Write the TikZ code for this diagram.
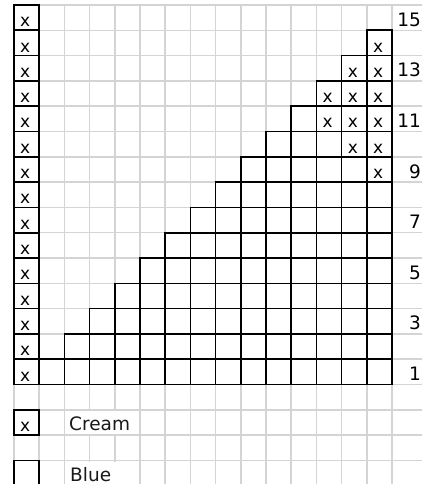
\documentclass[tikz,border=0pt]{standalone}
\usepackage{fontspec}
\setmainfont{DejaVu Sans}
\begin{document}
\begin{tikzpicture}[x=1pt,y=-1pt,
  gridline/.style={draw=black!17, line width=1.5pt},
  cellbox/.style={draw=black, line width=1.6pt, minimum width=25.2pt, minimum height=25.3pt, inner sep=0pt, outer sep=0pt, anchor=north west},
  xmark/.style={font=\fontsize{17}{17}\selectfont, inner sep=0pt, anchor=base west},
  rowlabel/.style={font=\fontsize{18.5}{18.5}\selectfont, inner sep=0pt, anchor=base east},
  legendtext/.style={font=\fontsize{18.5}{18.5}\selectfont, inner sep=0pt, anchor=base west, text=black!90}]
\useasboundingbox (0,0) rectangle (422,484);
\clip (0,0) rectangle (422,484);
% light grid
\foreach \k in {0,...,15} \draw[gridline] ({14+\k*25.2},5) -- ({14+\k*25.2},490);
\foreach \k in {0,...,19} \draw[gridline] (14,{5+\k*25.3}) -- (430,{5+\k*25.3});
% column 1 boxes
\foreach \r in {1,...,15} \node[cellbox] (cell-1-\r) at (14,{5+(15-\r)*25.3}) {};
% staircase boxes
\foreach \r in {1,...,14} {
  \pgfmathtruncatemacro\s{\r+1}
  \foreach \c in {\s,...,15}
    \node[cellbox] (cell-\c-\r) at ({14+(\c-1)*25.2},{5+(15-\r)*25.3}) {};
}
% x marks
\foreach \c/\r in {1/1,1/2,1/3,1/4,1/5,1/6,1/7,1/8,1/9,1/10,1/11,1/12,1/13,1/14,1/15,
  15/14,14/13,15/13,13/12,14/12,15/12,13/11,14/11,15/11,14/10,15/10,15/9}
  \node[xmark] (x-\c-\r) at ({14+(\c-1)*25.2+6},{5+(16-\r)*25.3-3.5}) {x};
% row labels
\foreach \r in {1,3,...,15}
  \node[rowlabel] (lbl-\r) at (421,{5+(16-\r)*25.3-4}) {\r};
% legend
\fill[white] (65.2,411) rectangle (139.2,434);
\fill[white] (65.2,461.5) rectangle (139.2,484);
\node[cellbox] (leg-cream) at (14,409.8) {};
\node[xmark] (leg-x) at (20,431.6) {x};
\node[legendtext] (cream) at (69,430.5) {Cream};
\node[cellbox] (leg-blue) at (14,460.4) {};
\node[legendtext] (blue) at (70,481) {Blue};
\end{tikzpicture}
\end{document}
